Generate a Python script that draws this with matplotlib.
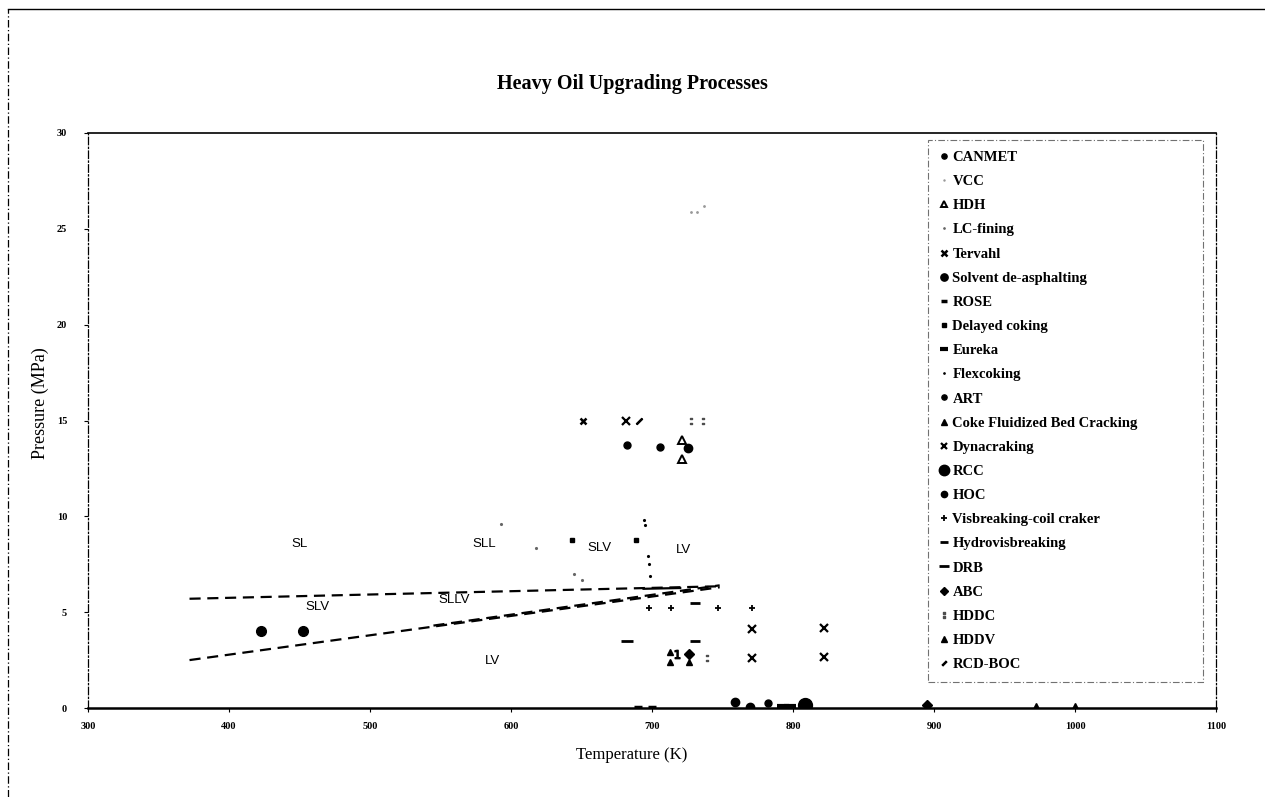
import numpy as np
import matplotlib
matplotlib.use("Agg")
import matplotlib.pyplot as plt
from matplotlib.lines import Line2D

plt.rcParams['font.family'] = ['Liberation Serif', 'DejaVu Serif']

# phase boundaries (dashed)
bound_upper_T = [372, 748]
bound_upper_P = [5.7, 6.35]
bound_lower_T = [372, 748]
bound_lower_P = [2.5, 6.3]
bound_mid_T = [545, 748]
bound_mid_P = [4.3, 6.4]
bound_solid_T = [694, 720]
bound_solid_P = [6.22, 6.26]

# phase region labels
region_names = ['SL', 'SLL', 'SLV', 'LV', 'SLV', 'SLLV', 'LV']
region_T = [450, 581, 663, 722, 463, 560, 587]
region_P = [8.55, 8.55, 8.35, 8.25, 5.27, 5.63, 2.45]

# processes: (T, P)
canmet_T, canmet_P = [682], [13.7]
vcc_T, vcc_P = [728, 732, 737], [25.9, 25.9, 26.2]
hdh_T, hdh_P = [721, 721], [14.0, 13.0]
lcfining_T, lcfining_P = [593, 618, 645, 650], [9.6, 8.35, 7.0, 6.7]
tervahl_T, tervahl_P = [651], [15.0]
sda_T, sda_P = [423, 452.5], [4.0, 4.0]
rose_T, rose_P = [690, 700], [0.05, 0.05]
delayed_T, delayed_P = [643, 689], [8.76, 8.76]
eureka_T, eureka_P = [793, 798], [0.1, 0.1]
flexi_T = [694, 695, 697, 698, 698.6]
flexi_P = [9.8, 9.55, 7.95, 7.5, 6.9]
art_T, art_P = [706, 782], [13.6, 0.25]
cfbc_T, cfbc_P = [972, 1000], [0.05, 0.05]
dyna_T = [681.6, 771, 822, 771, 822]
dyna_P = [15.0, 4.1, 4.15, 2.6, 2.65]
rcc_T, rcc_P = [808.5], [0.15]
hoc_T, hoc_P = [725.5, 769.5, 759], [13.55, 0.05, 0.3]
visb_T, visb_P = [698, 713.5, 747, 771], [5.2, 5.2, 5.2, 5.2]
hydrovisb_T, hydrovisb_P = [730.5, 730.5], [5.5, 3.5]
drb_T, drb_P = [682], [3.5]
abc_T, abc_P = [895, 726], [0.15, 2.8]
hddc_T, hddc_P = [728, 736, 739], [15.0, 15.0, 2.6]
hddv_T, hddv_P = [713, 713, 726], [2.9, 2.4, 2.4]
rcdboc_T, rcdboc_P = [690.8], [15.0]
other_T, other_P = [718], [2.8]

fig = plt.figure(figsize=(12.65, 7.97), dpi=100)
ax = fig.add_axes([88 / 1265, 1 - 708 / 797, 1128 / 1265, 575 / 797])

dash = dict(color='k', lw=1.6, dashes=(5, 3))
ax.plot(bound_upper_T, bound_upper_P, **dash)
ax.plot(bound_lower_T, bound_lower_P, **dash)
ax.plot(bound_mid_T, bound_mid_P, **dash)
ax.plot(bound_solid_T, bound_solid_P, color='k', lw=1.6)

for name, t, p in zip(region_names, region_T, region_P):
    ax.text(t, p, name, fontsize=9.5, ha='center', va='center',
            family=['Liberation Sans', 'DejaVu Sans'])

series = [
    ('CANMET', canmet_T, canmet_P, dict(marker='o', ms=5)),
    ('VCC', vcc_T, vcc_P, dict(marker='.', ms=2, color='0.6')),
    ('HDH', hdh_T, hdh_P, dict(marker='^', ms=6, mfc='white', mew=1.4)),
    ('LC-fining', lcfining_T, lcfining_P, dict(marker='.', ms=2.5, color='0.4')),
    ('Tervahl', tervahl_T, tervahl_P, dict(marker='x', ms=5, mew=1.8)),
    ('Solvent de-asphalting', sda_T, sda_P, dict(marker='o', ms=7)),
    ('ROSE', rose_T, rose_P, dict(marker='_', ms=6, mew=2.5)),
    ('Delayed coking', delayed_T, delayed_P, dict(marker='s', ms=3)),
    ('Eureka', eureka_T, eureka_P, dict(marker='_', ms=8, mew=3)),
    ('Flexcoking', flexi_T, flexi_P, dict(marker='.', ms=2.5)),
    ('ART', art_T, art_P, dict(marker='o', ms=5)),
    ('Coke Fluidized Bed Cracking', cfbc_T, cfbc_P, dict(marker='^', ms=6)),
    ('Dynacraking', dyna_T, dyna_P, dict(marker='x', ms=6, mew=1.6)),
    ('RCC', rcc_T, rcc_P, dict(marker='o', ms=10)),
    ('HOC', hoc_T, hoc_P, dict(marker='o', ms=6)),
    ('Visbreaking-coil craker', visb_T, visb_P, dict(marker='+', ms=5, mew=1.3)),
    ('Hydrovisbreaking', hydrovisb_T, hydrovisb_P, dict(marker='_', ms=7, mew=2)),
    ('DRB', drb_T, drb_P, dict(marker='_', ms=9, mew=2)),
    ('ABC', abc_T, abc_P, dict(marker='D', ms=5)),
    ('HDDC', hddc_T, hddc_P, dict(marker='$:$', ms=5, color='0.3')),
    ('HDDV', hddv_T, hddv_P, dict(marker='^', ms=5)),
    ('RCD-BOC', rcdboc_T, rcdboc_P, dict(marker=(2, 2, -45), ms=6, mew=1.6)),
]
for name, t, p, style in series:
    kw = dict(color='k', ls='none')
    kw.update(style)
    ax.plot(t, p, label=name, **kw)
ax.plot(other_T, other_P, ls='none', color='k', marker='$1$', ms=6)

ax.set_xlim(300, 1100)
ax.set_ylim(0, 30)
ax.set_xticks(np.arange(300, 1101, 100))
ax.set_yticks(np.arange(0, 31, 5))
ax.tick_params(labelsize=7.5, length=3, width=0.8, direction='out')
for lbl in ax.get_xticklabels() + ax.get_yticklabels():
    lbl.set_fontweight('bold')
ax.tick_params(axis='x', pad=7)
ax.tick_params(axis='y', pad=12)

for side in ['left', 'right']:
    ax.spines[side].set_linestyle((0, (6, 2, 1, 2)))
    ax.spines[side].set_linewidth(0.9)
ax.spines['top'].set_linewidth(1.2)
ax.spines['bottom'].set_linewidth(1.8)

leg = ax.legend(loc='upper left', bbox_to_anchor=(0.745, 0.05, 0.2435, 0.938),
                mode='expand', borderaxespad=0,
                prop=dict(family='Liberation Serif', weight='bold', size=10.5),
                handlelength=0.7, handletextpad=0.2, labelspacing=0.75,
                borderpad=0.75, frameon=True, fancybox=False, markerscale=0.75)
frame = leg.get_frame()
frame.set_edgecolor('0.3')
frame.set_linewidth(0.8)
frame.set_linestyle((0, (6, 2, 1, 2)))

fig.text(632 / 1265, 1 - 84 / 797, 'Heavy Oil Upgrading Processes', fontsize=14.5,
         fontweight='bold', ha='center', va='center')
fig.text(632 / 1265, 1 - 755 / 797, 'Temperature (K)', fontsize=12, ha='center', va='center')
fig.text(40 / 1265, 1 - 403 / 797, 'Pressure (MPa)', fontsize=13, rotation=90,
         ha='center', va='center')

# outer frame (top and left edges)
fig.add_artist(Line2D([8 / 1265, 1.0], [1 - 9 / 797, 1 - 9 / 797], color='k', lw=1.0,
                      transform=fig.transFigure))
fig.add_artist(Line2D([8 / 1265, 8 / 1265], [0, 1 - 9 / 797], color='k', lw=0.9,
                      ls=(0, (6, 2, 1, 2)), transform=fig.transFigure))

fig.savefig('out.png', dpi=100)
